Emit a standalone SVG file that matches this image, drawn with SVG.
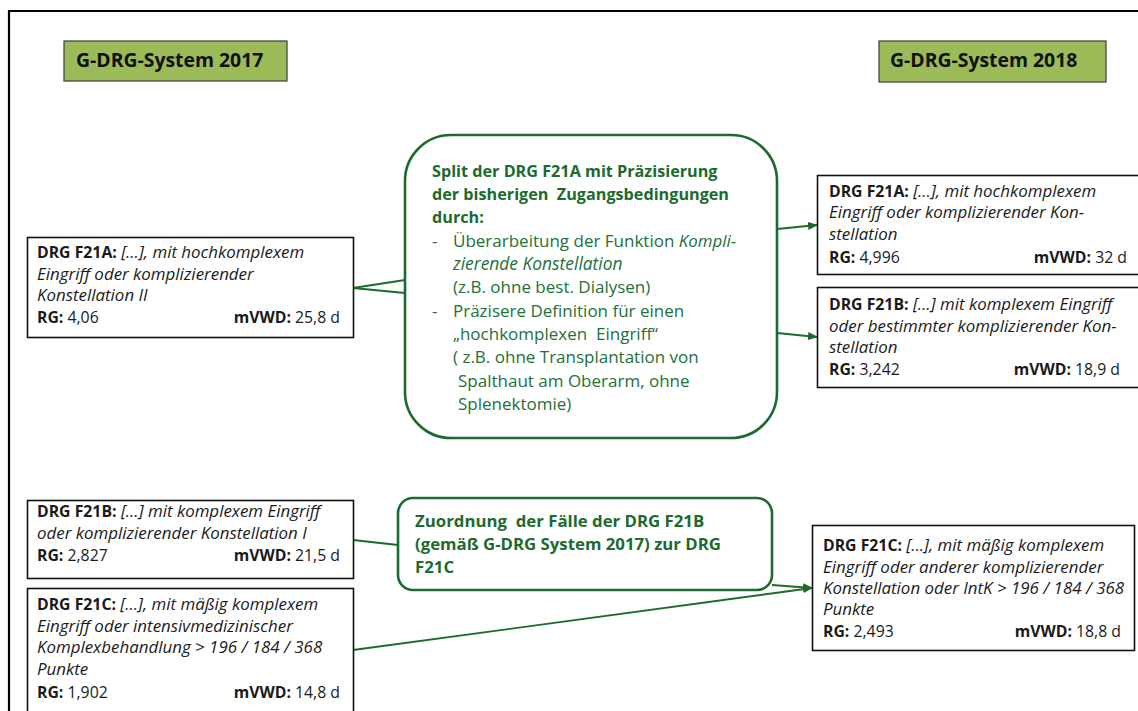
<svg xmlns="http://www.w3.org/2000/svg" width="1138" height="711" viewBox="0 0 1138 711">
  <style>
    .frame { fill: none; stroke: #000; stroke-width: 2.2; }
    .hdr { fill: #9BBB59; stroke: #3b3b3b; stroke-width: 1.2; }
    .hdrt { font-family: "Open Sans", "Liberation Sans", Arial, sans-serif; font-weight: bold; font-size: 19.4px; fill: #111; }
    .box { fill: #fff; stroke: #111; stroke-width: 1.6; }
    .gbox { fill: #fff; stroke: #1C6A2E; stroke-width: 2.6; }
    .t { font-family: "Open Sans", "Liberation Sans", Arial, sans-serif; font-size: 15.8px; fill: #1a1a1a; }
    .b { font-weight: bold; }
    .i { font-style: italic; font-size: 16.9px; }
    .g { font-family: "Open Sans", "Liberation Sans", Arial, sans-serif; font-size: 17px; fill: #23703A; }
    .g.i { font-size: 17.4px; }
    .gb { font-weight: bold; font-size: 16.2px; fill: #1C6A2E; }
    .gz { font-size: 16.8px; }
    .con { fill: none; stroke: #1C6A2E; stroke-width: 1.8; }
  </style>
  <defs>
    <marker id="arr" markerUnits="userSpaceOnUse" markerWidth="10" markerHeight="8" refX="9" refY="4" orient="auto">
      <path d="M0,0 L10,4 L0,8 Z" fill="#1C6A2E"/>
    </marker>
  </defs>

  <!-- page frame -->
  <path class="frame" d="M9,711 V11 H1138"/>

  <!-- column headers -->
  <g id="hdr-2017">
    <rect class="hdr" x="64" y="41" width="223" height="40"/>
    <text class="hdrt" x="76" y="67">G-DRG-System 2017</text>
  </g>
  <g id="hdr-2018">
    <rect class="hdr" x="879" y="41" width="227" height="41"/>
    <text class="hdrt" x="890" y="67">G-DRG-System 2018</text>
  </g>

  <!-- connectors -->
  <g id="connectors">
    <path class="con" d="M405,280 L353,288 L405,293"/>
    <path class="con" d="M777,229 L817,225" marker-end="url(#arr)"/>
    <path class="con" d="M777,333 L817,337" marker-end="url(#arr)"/>
    <path class="con" d="M353,540 L398,545"/>
    <path class="con" d="M772,585 L812,588" marker-end="url(#arr)"/>
    <path class="con" d="M353,650 L812,588" marker-end="url(#arr)"/>
  </g>

  <!-- 2017 nodes -->
  <g id="old-f21a">
    <rect class="box" x="27.5" y="237.5" width="326" height="100"/>
    <text class="t" x="37" y="258"><tspan class="b">DRG F21A:</tspan><tspan class="i"> […], mit hochkomplexem</tspan></text>
    <text class="t i" x="37" y="280">Eingriff oder komplizierender</text>
    <text class="t i" x="37" y="301">Konstellation II</text>
    <text class="t" x="37" y="323"><tspan class="b">RG:</tspan> 4,06</text>
    <text class="t" x="340" y="323" text-anchor="end"><tspan class="b">mVWD:</tspan> 25,8 d</text>
  </g>

  <g id="old-f21b">
    <rect class="box" x="27.5" y="500.5" width="326" height="78"/>
    <text class="t" x="37" y="517"><tspan class="b">DRG F21B:</tspan><tspan class="i"> […] mit komplexem Eingriff</tspan></text>
    <text class="t i" x="37" y="539">oder komplizierender Konstellation I</text>
    <text class="t" x="37" y="561"><tspan class="b">RG:</tspan> 2,827</text>
    <text class="t" x="340" y="561" text-anchor="end"><tspan class="b">mVWD:</tspan> 21,5 d</text>
  </g>

  <g id="old-f21c">
    <rect class="box" x="27.5" y="588.5" width="326" height="130"/>
    <text class="t" x="37" y="610"><tspan class="b">DRG F21C:</tspan><tspan class="i"> […], mit mäßig komplexem</tspan></text>
    <text class="t i" x="37" y="632">Eingriff oder intensivmedizinischer</text>
    <text class="t i" x="37" y="653">Komplexbehandlung &gt; 196 / 184 / 368</text>
    <text class="t i" x="37" y="675">Punkte</text>
    <text class="t" x="37" y="698"><tspan class="b">RG:</tspan> 1,902</text>
    <text class="t" x="340" y="698" text-anchor="end"><tspan class="b">mVWD:</tspan> 14,8 d</text>
  </g>

  <!-- change descriptions -->
  <g id="split-f21a">
    <rect class="gbox" x="405" y="135" width="372" height="303" rx="46" ry="46"/>
    <text class="g gb" x="432" y="177">Split der DRG F21A mit Präzisierung</text>
    <text class="g gb" x="432" y="200" xml:space="preserve">der bisherigen  Zugangsbedingungen</text>
    <text class="g gb" x="432" y="223">durch:</text>
    <text class="g" x="432" y="247">-</text>
    <text class="g" x="453" y="247">Überarbeitung der Funktion <tspan class="i">Kompli-</tspan></text>
    <text class="g i" x="453" y="270">zierende Konstellation</text>
    <text class="g" x="453" y="293">(z.B. ohne best. Dialysen)</text>
    <text class="g" x="432" y="317">-</text>
    <text class="g" x="453" y="317">Präzisere Definition für einen</text>
    <text class="g" x="453" y="340" xml:space="preserve">„hochkomplexen  Eingriff“</text>
    <text class="g" x="453" y="363">( z.B. ohne Transplantation von</text>
    <text class="g" x="458" y="387">Spalthaut am Oberarm, ohne</text>
    <text class="g" x="458" y="410">Splenektomie)</text>
  </g>

  <g id="merge-f21b">
    <rect class="gbox" x="398" y="498" width="374" height="92" rx="15" ry="15"/>
    <text class="g gb gz" x="415" y="527" xml:space="preserve">Zuordnung  der Fälle der DRG F21B</text>
    <text class="g gb gz" x="415" y="550">(gemäß G-DRG System 2017) zur DRG</text>
    <text class="g gb gz" x="415" y="573">F21C</text>
  </g>

  <!-- 2018 nodes -->
  <g id="new-f21a">
    <rect class="box" x="817.5" y="175.5" width="330" height="99"/>
    <text class="t" x="829" y="197"><tspan class="b">DRG F21A:</tspan><tspan class="i"> […], mit hochkomplexem</tspan></text>
    <text class="t i" x="829" y="218">Eingriff oder komplizierender Kon-</text>
    <text class="t i" x="829" y="240">stellation</text>
    <text class="t" x="829" y="263"><tspan class="b">RG:</tspan> 4,996</text>
    <text class="t" x="1127" y="263" text-anchor="end"><tspan class="b">mVWD:</tspan> 32 d</text>
  </g>

  <g id="new-f21b">
    <rect class="box" x="817.5" y="287.5" width="330" height="100"/>
    <text class="t" x="829" y="310"><tspan class="b">DRG F21B:</tspan><tspan class="i"> […] mit komplexem Eingriff</tspan></text>
    <text class="t i" x="829" y="332">oder bestimmter komplizierender Kon-</text>
    <text class="t i" x="829" y="353">stellation</text>
    <text class="t" x="829" y="375"><tspan class="b">RG:</tspan> 3,242</text>
    <text class="t" x="1120" y="375" text-anchor="end"><tspan class="b">mVWD:</tspan> 18,9 d</text>
  </g>

  <g id="new-f21c">
    <rect class="box" x="812.5" y="525.5" width="322" height="125"/>
    <text class="t" x="823" y="551"><tspan class="b">DRG F21C:</tspan><tspan class="i"> […], mit mäßig komplexem</tspan></text>
    <text class="t i" x="823" y="573">Eingriff oder anderer komplizierender</text>
    <text class="t i" x="823" y="594">Konstellation oder IntK &gt; 196 / 184 / 368</text>
    <text class="t i" x="823" y="615">Punkte</text>
    <text class="t" x="823" y="637"><tspan class="b">RG:</tspan> 2,493</text>
    <text class="t" x="1121" y="637" text-anchor="end"><tspan class="b">mVWD:</tspan> 18,8 d</text>
  </g>
</svg>
